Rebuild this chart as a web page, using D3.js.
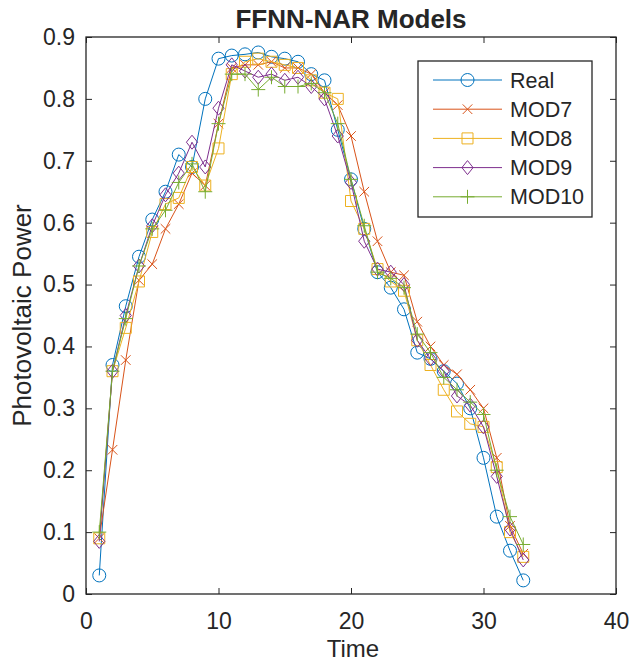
<!DOCTYPE html>
<html>
<head>
<meta charset="utf-8">
<script src="https://cdn.jsdelivr.net/npm/d3@7"></script>
<style>
  body { margin: 0; background: #fff; }
  text { font-family: "Liberation Sans", Arial, sans-serif; fill: #262626; }
</style>
</head>
<body>
<div id="chart"></div>
<script>
var time = d3.range(1, 34);

var real  = [0.03, 0.37, 0.465, 0.545, 0.605, 0.65, 0.71, 0.69, 0.80, 0.865, 0.87, 0.872, 0.875, 0.868, 0.865, 0.86, 0.84,
             0.83, 0.75, 0.67, 0.59, 0.52, 0.495, 0.46, 0.39, 0.38, 0.36, 0.34, 0.30, 0.22, 0.125, 0.07, 0.022];
var mod7  = [0.09, 0.233, 0.378, 0.507, 0.533, 0.59, 0.63, 0.68, 0.66, 0.76, 0.85, 0.855, 0.855, 0.86, 0.85, 0.85, 0.84,
             0.81, 0.79, 0.74, 0.65, 0.57, 0.52, 0.515, 0.44, 0.40, 0.37, 0.355, 0.33, 0.30, 0.22, 0.11, 0.065];
var mod8  = [0.09, 0.36, 0.43, 0.505, 0.585, 0.63, 0.64, 0.69, 0.66, 0.72, 0.84, 0.86, 0.865, 0.86, 0.855, 0.85, 0.83,
             0.81, 0.80, 0.635, 0.59, 0.525, 0.505, 0.49, 0.41, 0.37, 0.33, 0.295, 0.275, 0.27, 0.205, 0.10, 0.06];
var mod9  = [0.085, 0.36, 0.45, 0.53, 0.595, 0.645, 0.68, 0.73, 0.69, 0.785, 0.855, 0.845, 0.835, 0.84, 0.83, 0.835, 0.82,
             0.80, 0.74, 0.665, 0.57, 0.525, 0.52, 0.50, 0.41, 0.38, 0.36, 0.32, 0.305, 0.27, 0.19, 0.105, 0.055];
var mod10 = [0.10, 0.36, 0.445, 0.53, 0.59, 0.62, 0.665, 0.695, 0.65, 0.76, 0.84, 0.84, 0.815, 0.835, 0.82, 0.82, 0.825,
             0.81, 0.76, 0.67, 0.595, 0.52, 0.51, 0.495, 0.42, 0.39, 0.35, 0.33, 0.31, 0.29, 0.20, 0.125, 0.08];

var names   = ["Real", "MOD7", "MOD8", "MOD9", "MOD10"];
var colors  = ["#0072BD", "#D95319", "#EDB120", "#7E2F8E", "#77AC30"];
var markers = ["circle", "x", "square", "diamond", "plus"];
var xTicks  = [0, 10, 20, 30, 40];
var yTicks  = [0, 0.1, 0.2, 0.3, 0.4, 0.5, 0.6, 0.7, 0.8, 0.9];

var series = [real, mod7, mod8, mod9, mod10].map(function(v, i) {
  return { name: names[i], color: colors[i], marker: markers[i],
           values: v.map(function(y, j) { return { t: time[j], y: y }; }) };
});

var W = 629, H = 665;
var margin = {top: 37, right: 13, bottom: 71, left: 86},
    width = W - margin.left - margin.right,
    height = H - margin.top - margin.bottom;

var svg = d3.select("#chart").append("svg")
    .attr("width", W)
    .attr("height", H);

var g = svg.append("g")
    .attr("transform", "translate(" + margin.left + "," + margin.top + ")");

var x = d3.scaleLinear().domain([0, 40]).range([0, width]);
var y = d3.scaleLinear().domain([0, 0.9]).range([height, 0]);

function markerPath(type, cx, cy) {
  var r;
  if (type === "circle") {
    r = 6.5;
    return "M" + (cx - r) + "," + cy + "a" + r + "," + r + " 0 1,0 " + (2 * r) + ",0a" + r + "," + r + " 0 1,0 " + (-2 * r) + ",0";
  }
  if (type === "x") {
    r = 4.8;
    return "M" + (cx - r) + "," + (cy - r) + "L" + (cx + r) + "," + (cy + r) +
           "M" + (cx - r) + "," + (cy + r) + "L" + (cx + r) + "," + (cy - r);
  }
  if (type === "square") {
    r = 5.5;
    return "M" + (cx - r) + "," + (cy - r) + "h" + (2 * r) + "v" + (2 * r) + "h" + (-2 * r) + "Z";
  }
  if (type === "diamond") {
    r = 7;
    return "M" + cx + "," + (cy - r) + "L" + (cx + r * 0.8) + "," + cy + "L" + cx + "," + (cy + r) + "L" + (cx - r * 0.8) + "," + cy + "Z";
  }
  r = 7;
  return "M" + (cx - r) + "," + cy + "H" + (cx + r) + "M" + cx + "," + (cy - r) + "V" + (cy + r);
}

var line = d3.line()
    .x(function(d) { return x(d.t); })
    .y(function(d) { return y(d.y); });

series.forEach(function(s) {
  var sg = g.append("g");
  sg.append("path")
    .attr("d", line(s.values))
    .attr("fill", "none")
    .attr("stroke", s.color)
    .attr("stroke-width", 1);
  sg.selectAll(".m")
    .data(s.values)
  .enter().append("path")
    .attr("class", "m")
    .attr("d", function(d) { return markerPath(s.marker, x(d.t), y(d.y)); })
    .attr("fill", "none")
    .attr("stroke", s.color)
    .attr("stroke-width", 1);
});

// axes with inward ticks on all four sides
var axisColor = "#262626";
function styleAxis(sel) {
  sel.select(".domain").remove();
  sel.selectAll(".tick line").attr("stroke", axisColor);
  sel.selectAll(".tick text").style("font-size", "23px").attr("fill", axisColor);
}

g.append("g")
    .attr("transform", "translate(0," + height + ")")
    .call(d3.axisBottom(x).tickValues(xTicks).tickSizeInner(-6).tickPadding(19).tickFormat(d3.format("d")))
    .call(styleAxis);
g.append("g")
    .call(d3.axisTop(x).tickValues(xTicks).tickSizeInner(-6).tickFormat(""))
    .call(styleAxis);
g.append("g")
    .call(d3.axisLeft(y).tickValues(yTicks).tickSizeInner(-6).tickPadding(11)
      .tickFormat(function(d) { return d === 0 ? "0" : d3.format(".1f")(d); }))
    .call(styleAxis);
g.append("g")
    .attr("transform", "translate(" + width + ",0)")
    .call(d3.axisRight(y).tickValues(yTicks).tickSizeInner(-6).tickFormat(""))
    .call(styleAxis);

g.append("rect")
    .attr("width", width)
    .attr("height", height)
    .attr("fill", "none")
    .attr("stroke", axisColor)
    .attr("stroke-width", 1.3);

// title and labels
svg.append("text")
    .attr("x", margin.left + width / 2)
    .attr("y", 28)
    .attr("text-anchor", "middle")
    .style("font-size", "26px")
    .style("font-weight", "bold")
    .attr("fill", "#000")
    .text("FFNN-NAR Models");

svg.append("text")
    .attr("x", margin.left + width / 2 + 2)
    .attr("y", 657)
    .attr("text-anchor", "middle")
    .style("font-size", "24px")
    .text("Time");

svg.append("text")
    .attr("transform", "translate(31," + (margin.top + height / 2) + ") rotate(-90)")
    .attr("text-anchor", "middle")
    .style("font-size", "26px")
    .text("Photovoltaic Power");

// legend
var lg = svg.append("g").attr("transform", "translate(418,61)");
lg.append("rect")
    .attr("width", 174)
    .attr("height", 156)
    .attr("fill", "#fff")
    .attr("stroke", axisColor)
    .attr("stroke-width", 1.3);

var items = lg.selectAll(".item")
    .data(series)
  .enter().append("g")
    .attr("class", "item")
    .attr("transform", function(d, i) { return "translate(0," + (19 + i * 29.2) + ")"; });

items.append("line")
    .attr("x1", 15).attr("x2", 84)
    .attr("stroke", function(d) { return d.color; })
    .attr("stroke-width", 1);
items.append("path")
    .attr("d", function(d) { return markerPath(d.marker, 49.5, 0); })
    .attr("fill", "none")
    .attr("stroke", function(d) { return d.color; })
    .attr("stroke-width", 1);
items.append("text")
    .attr("x", 92)
    .attr("dy", "0.35em")
    .style("font-size", "21.5px")
    .text(function(d) { return d.name; });
</script>
</body>
</html>
